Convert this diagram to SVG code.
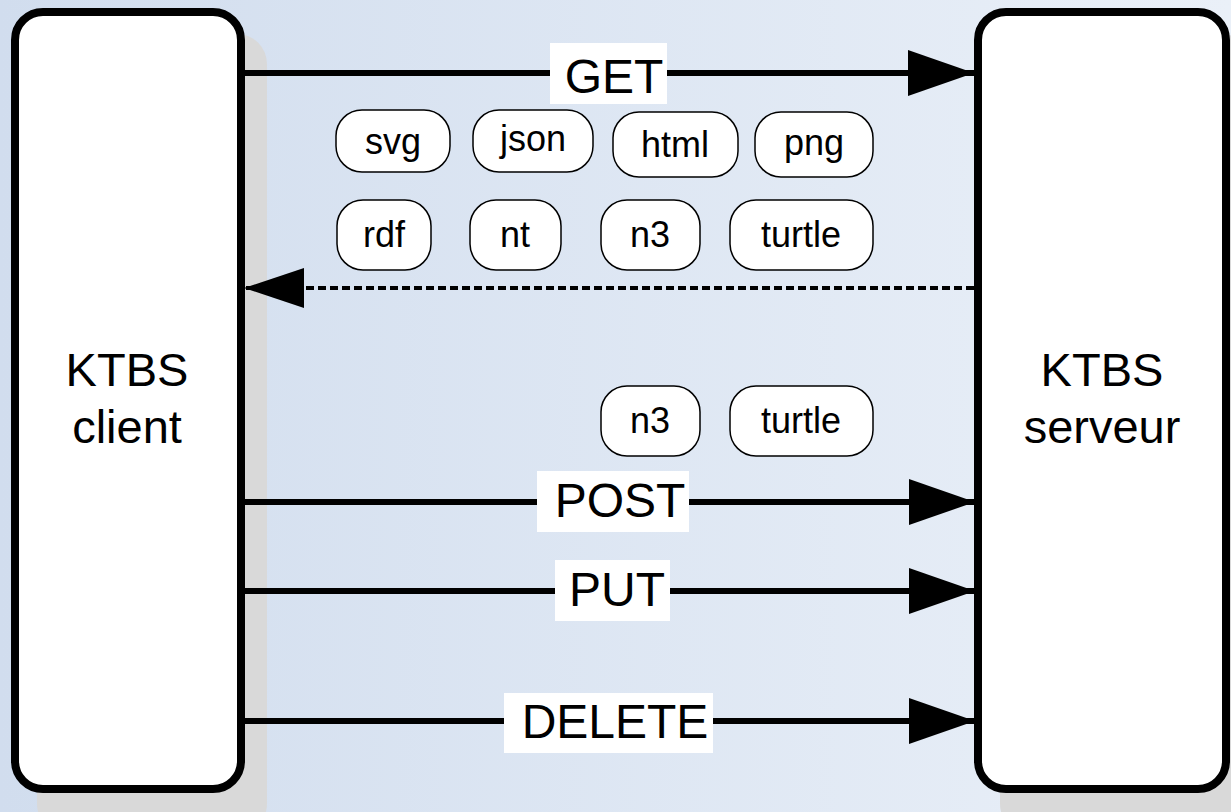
<svg xmlns="http://www.w3.org/2000/svg" width="1231" height="812" viewBox="0 0 1231 812">
<defs>
<linearGradient id="bg" x1="0" y1="0" x2="1" y2="0">
<stop offset="0" stop-color="#d1ddee"/>
<stop offset="1" stop-color="#eaf0f8"/>
</linearGradient>
<marker id="head" markerUnits="userSpaceOnUse" markerWidth="68" markerHeight="48" refX="66" refY="23" orient="auto">
<path d="M0,0 L66,23 L0,46 Z" fill="#000"/>
</marker>
<marker id="headDash" markerUnits="userSpaceOnUse" markerWidth="62" markerHeight="42" refX="60" refY="20" orient="auto">
<path d="M0,0 L60,20 L0,40 Z" fill="#000"/>
</marker>
</defs>
<style>
.shadow{fill:#d9d9d9}
.box{fill:#fff;stroke:#000;stroke-width:8}
.big{font-family:"Liberation Sans",Arial,sans-serif;font-size:47px;fill:#000;text-anchor:middle}
.pill rect{fill:#fff;stroke:#000;stroke-width:1.5}
.pill text{font-family:"Liberation Sans",Arial,sans-serif;font-size:36px;fill:#000;text-anchor:middle}
.arrow{stroke:#000;stroke-width:6;fill:none;marker-end:url(#head)}
.dash{stroke:#000;stroke-width:4;fill:none;stroke-dasharray:8 4;marker-end:url(#headDash)}
.lbl rect{fill:#fff}
.lbl text{font-family:"Liberation Sans",Arial,sans-serif;font-size:48px;fill:#000;text-anchor:middle}
</style>
<rect x="0" y="0" width="1231" height="812" fill="url(#bg)"/>
<rect class="shadow" x="37" y="34" width="230" height="800" rx="30"/>
<rect class="shadow" x="1000" y="34" width="252" height="800" rx="30"/>
<g id="client">
<rect class="box" x="15" y="12" width="226" height="777" rx="28"/>
<text class="big" x="127" y="386">KTBS</text>
<text class="big" x="127" y="443">client</text>
</g>
<g id="serveur">
<rect class="box" x="978" y="12" width="248" height="777" rx="28"/>
<text class="big" x="1102" y="386">KTBS</text>
<text class="big" x="1102" y="443">serveur</text>
</g>
<g id="connectors">
<line class="arrow" x1="245" y1="73" x2="974" y2="73"/>
<line class="dash" x1="974" y1="288" x2="244" y2="288"/>
<line class="arrow" x1="245" y1="502" x2="975" y2="502"/>
<line class="arrow" x1="245" y1="591" x2="975" y2="591"/>
<line class="arrow" x1="245" y1="721" x2="975" y2="721"/>
<g class="lbl"><rect x="550" y="43" width="117" height="61"/><text x="614" y="93">GET</text></g>
<g class="lbl"><rect x="537" y="471" width="152" height="61"/><text x="620" y="517">POST</text></g>
<g class="lbl"><rect x="555" y="560" width="115" height="61"/><text x="617" y="606">PUT</text></g>
<g class="lbl"><rect x="504" y="693" width="209" height="60"/><text x="615" y="738">DELETE</text></g>
</g>
<g id="fmt-svg" class="pill"><rect x="336" y="110" width="114" height="62" rx="26"/><text x="393" y="154">svg</text></g>
<g id="fmt-json" class="pill"><rect x="473" y="110" width="120" height="62" rx="26"/><text x="533" y="151">json</text></g>
<g id="fmt-html" class="pill"><rect x="613" y="112" width="125" height="65" rx="26"/><text x="675" y="157">html</text></g>
<g id="fmt-png" class="pill"><rect x="755" y="112" width="118" height="65" rx="26"/><text x="814" y="155">png</text></g>
<g id="fmt-rdf" class="pill"><rect x="337" y="200" width="94" height="70" rx="26"/><text x="384" y="247">rdf</text></g>
<g id="fmt-nt" class="pill"><rect x="470" y="200" width="91" height="70" rx="26"/><text x="515" y="247">nt</text></g>
<g id="fmt-n3" class="pill"><rect x="601" y="200" width="99" height="70" rx="26"/><text x="650" y="247">n3</text></g>
<g id="fmt-turtle" class="pill"><rect x="730" y="200" width="143" height="70" rx="26"/><text x="801" y="247">turtle</text></g>
<g id="post-n3" class="pill"><rect x="601" y="386" width="99" height="70" rx="26"/><text x="650" y="433">n3</text></g>
<g id="post-turtle" class="pill"><rect x="730" y="386" width="143" height="70" rx="26"/><text x="801" y="433">turtle</text></g>
</svg>
